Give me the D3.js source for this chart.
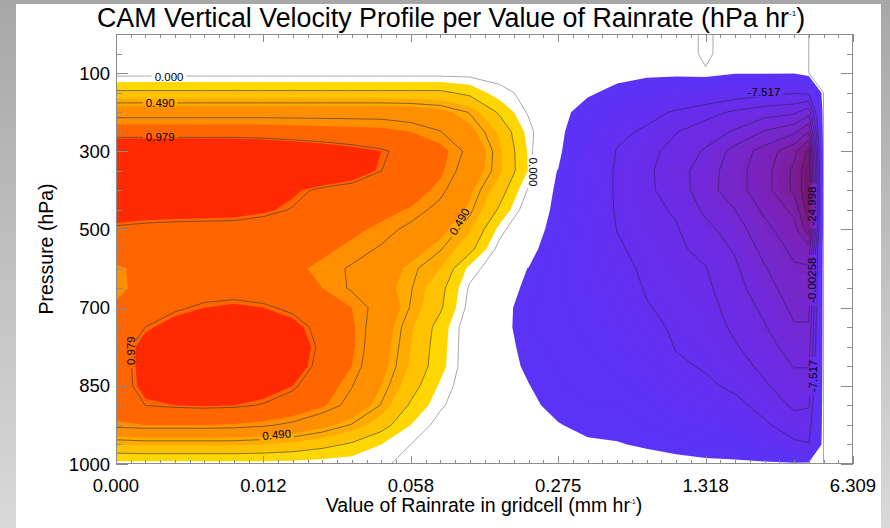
<!DOCTYPE html>
<html>
<head>
<meta charset="utf-8">
<script src="https://cdn.jsdelivr.net/npm/d3@7"></script>
<style>
  body { margin: 0; background: #ffffff; }
  svg { display: block; }
  text { font-family: "Liberation Sans", Arial, Helvetica, sans-serif; fill: #000; }
</style>
</head>
<body>
<svg id="chart" width="890" height="528"></svg>
<script>
// ---- data ---------------------------------------------------------------
// Rain-rate bin (in minor-tick units, 0..50) of each sampled column of the grid
const rainBins = [0, 2, 4, 6, 8, 10, 12, 14, 16, 18, 20, 22, 24, 26, 28, 30, 32, 34, 36, 38, 40, 42, 44, 46, 47, 48, 50];
// Axis tick labels
const rainTickBins = [0, 10, 20, 30, 40, 50];
const rainTickLabels = ["0.000", "0.012", "0.058", "0.275", "1.318", "6.309"];
const pressureTickLevels = [2, 6, 10, 14, 18, 22];
const pressureTickLabels = ["100", "300", "500", "700", "850", "1000"];

// Vertical velocity (hPa hr-1); one row per model level, top of the atmosphere first
const omega = [
  [-.01,-.01,-.01,-.01,-.01,-.01,-.01,-.01,-.01,-.01,-.01,-.01,-.01,-.01,-.01,-.01,-.01,-.01,-.01,-.03,.01,-.03,-.01,-.01,0,0,0],
  [-.01,-.01,-.01,-.01,-.01,-.01,-.01,-.01,-.01,-.01,-.01,-.01,-.01,-.01,-.01,-.01,-.01,-.01,-.01,-.03,.01,-.03,-.01,-.01,0,0,0],
  [-.05,-.05,-.05,-.05,-.05,-.05,-.05,-.05,-.05,-.05,-.05,-.05,-.05,-.04,-.03,-.03,-.05,-.1,-.3,-.3,-.005,-.8,-.8,-.9,0,0,0],
  [.28,.28,.28,.28,.28,.28,.28,.28,.28,.28,.28,.28,.2,.03,-.03,-.05,-.6,-1.8,-3.3,-4.2,-5.1,-6.0,-6.7,-7.3,-7.0,0,0],
  [.68,.68,.68,.68,.68,.68,.68,.68,.68,.68,.66,.6,.48,.22,-.02,-.08,-2.2,-4.3,-6.5,-7.9,-9.1,-10.4,-11.4,-12,-14,0,0],
  [.87,.87,.87,.87,.87,.87,.86,.85,.84,.83,.8,.74,.6,.38,.05,-.25,-3.5,-6.8,-8,-9.9,-11.3,-12.8,-15.2,-16.9,-20,0,0],
  [1.25,1.25,1.25,1.25,1.25,1.2,1.15,1.1,1.05,1.0,.92,.84,.7,.43,.08,-.52,-4.2,-7.7,-9.2,-11,-12.8,-16,-18.5,-21.8,-25.5,0,0],
  [1.3,1.3,1.3,1.3,1.3,1.3,1.25,1.15,1.08,.98,.9,.82,.66,.43,.09,-1.05,-4.5,-8,-9.5,-11.5,-13.7,-16.5,-19,-23,-27,0,0],
  [1.3,1.3,1.3,1.3,1.25,1.15,1.02,.95,.92,.9,.86,.77,.58,.33,-.02,-1.2,-4.6,-8,-9.5,-11.2,-13.9,-16.5,-19,-23,-27,0,0],
  [1.1,1.08,1.07,1.06,1.05,1.02,.97,.9,.86,.83,.79,.69,.52,.22,-.1,-1.35,-4.6,-7.9,-9.3,-10.3,-13,-15,-18,-20.6,-26.5,0,0],
  [.95,.93,.92,.92,.92,.9,.88,.85,.82,.78,.7,.6,.42,.06,-.2,-1.65,-4.4,-7.6,-8.9,-9.8,-11.8,-13.8,-16.8,-19.1,-24,0,0],
  [.88,.9,.9,.9,.9,.88,.86,.82,.78,.72,.62,.5,.3,-.05,-.3,-2.5,-4.3,-7.1,-8.5,-9.5,-10.8,-12.8,-15.8,-18.1,-19,0,0],
  [.78,.84,.86,.86,.85,.84,.82,.78,.72,.63,.52,.4,.06,-.1,-1.05,-2.8,-4.1,-6.5,-8.1,-9.1,-9.9,-12.1,-14.8,-17.2,-17.2,0,0],
  [.76,.86,.9,.92,.92,.9,.86,.8,.72,.6,.5,.3,-.02,-.2,-1.34,-2.8,-3.9,-5.8,-7.8,-8.8,-9.5,-11.6,-14,-16.4,-16.4,0,0],
  [.82,.9,.96,1.0,1.02,1.0,.95,.88,.8,.68,.48,.27,-.05,-.2,-1.9,-2.6,-3.6,-5.2,-7.3,-8.4,-9.1,-11,-13.1,-15.6,-15.6,0,0],
  [.86,.98,1.05,1.1,1.12,1.1,1.04,.93,.82,.64,.42,.18,-.1,-.2,-2.0,-2.5,-3.3,-4.5,-6.4,-8.1,-8.7,-10.5,-12.3,-14.8,-14.8,0,0],
  [.9,1.05,1.1,1.15,1.15,1.12,1.08,.95,.82,.62,.4,.16,-.1,-.2,-1.6,-2.3,-3.0,-3.9,-5.5,-7.7,-8.2,-9.8,-11.5,-13.7,-13.7,0,0],
  [.9,1.05,1.12,1.16,1.16,1.13,1.07,.93,.8,.6,.38,.15,-.1,-.2,-1.3,-2.1,-2.7,-3.3,-4.6,-7.0,-7.8,-9.0,-10.6,-12.6,-12.6,0,0],
  [.9,1.04,1.08,1.1,1.1,1.06,1.0,.88,.74,.55,.32,.08,-.1,-.2,-.95,-1.9,-2.3,-2.6,-3.7,-5.6,-7.0,-8.1,-9.7,-11.5,-11.4,0,0],
  [.88,.98,1.0,1.01,1.0,.97,.92,.82,.68,.48,.22,.02,-.1,-.3,-.6,-1.56,-1.9,-2.0,-2.8,-4.2,-5.2,-6.7,-8.5,-10.4,-10.2,0,0],
  [.78,.8,.8,.8,.79,.76,.7,.6,.48,.32,.1,-.05,-.1,-.3,-.5,-.9,-1.5,-1.5,-2.0,-2.9,-3.6,-4.6,-7.1,-9.0,-8.8,0,0],
  [.4,.42,.42,.42,.42,.4,.36,.3,.22,.1,0,-.05,-.1,-.3,-.4,-.5,-.7,-.9,-1.2,-1.6,-1.9,-2.3,-3.8,-7.0,-7.4,0,0],
  [.05,.05,.05,.05,.05,.05,.05,.03,.02,.01,-.02,-.05,-.1,-.2,-.3,-.3,-.3,-.3,-.3,-.4,-.6,-.6,-.6,-.6,-.5,0,0]
];

// Filled levels for ascent (positive) and their colours
const upFillLevels = [0.1, 0.25, 0.4, 0.55, 0.8, 1.0];
const upFillColors = ["#ffd700", "#ffc200", "#ffaa00", "#ff8f00", "#ff6600", "#ff2a00"];
// Filled levels for descent (negative), as magnitudes
const downFillLevels = d3.range(1, 28, 1);
const downColorStops = [1, 7, 13, 19, 24, 27];
const downColors = ["#5a33f7", "#652ff0", "#7229da", "#7b22b6", "#7a1b88", "#6c1566"];
// Contour lines
const zeroLevel = 0;
const upLineLevels = [0.245, 0.490, 0.734, 0.979];
const downLineLevels = [7.517, 10.014, 12.511, 15.009, 17.506, 20.003, 22.500, 24.998, 27.495];

// Contour labels, placed in data coordinates (rain bin, model level)
const contourLabels = [
  { text: "0.000",   bin: 3.6,   level: 2.2,  angle: 0 },
  { text: "0.490",   bin: 3.0,   level: 3.53, angle: 0 },
  { text: "0.979",   bin: 3.0,   level: 5.27, angle: 0 },
  { text: "0.979",   bin: 1.0,   level: 16.2, angle: -90 },
  { text: "0.490",   bin: 10.9,  level: 20.5, angle: -5 },
  { text: "0.490",   bin: 23.3,  level: 9.6,  angle: -60 },
  { text: "0.000",   bin: 28.3,  level: 7.06, angle: 90 },
  { text: "-7.517",  bin: 43.96, level: 2.97, angle: 0 },
  { text: "-24.998", bin: 47.2,  level: 8.8,  angle: -90 },
  { text: "-0.00258",bin: 47.2,  level: 12.6, angle: -90 },
  { text: "-7.517",  bin: 47.3,  level: 17.5, angle: -90 }
];

// ---- layout -------------------------------------------------------------
const svg = d3.select("#chart");
const W = 890, H = 528;
const plot = { left: 116, top: 34, right: 853, bottom: 464 };

const x = d3.scaleLinear().domain([0, 50]).range([plot.left, plot.right]);
const y = d3.scaleLinear().domain([0, 22]).range([plot.top, plot.bottom]);

const nCols = rainBins.length, nRows = omega.length;
const colToBin = d3.scaleLinear().domain(d3.range(nCols)).range(rainBins);
const gridToPx = d3.geoTransform({
  point(cx, cy) { this.stream.point(x(colToBin(cx - 0.5)), y(cy - 0.5)); }
});
const path = d3.geoPath(gridToPx);

const values = omega.flat();
const negValues = values.map(v => -v);
const contours = d3.contours().size([nCols, nRows]);

const defs = svg.append("defs");

// page frame: grey bands on the edges
const grad = defs.append("linearGradient").attr("id", "edgeGrey")
  .attr("x1", 0).attr("y1", 0).attr("x2", 0).attr("y2", 1);
grad.append("stop").attr("offset", "0%").attr("stop-color", "#a7a7a7");
grad.append("stop").attr("offset", "100%").attr("stop-color", "#d9d9d9");
svg.append("rect").attr("x", 0).attr("y", 0).attr("width", W).attr("height", H).attr("fill", "#fff");
svg.append("rect").attr("x", 0).attr("y", 0).attr("width", 16).attr("height", H).attr("fill", "url(#edgeGrey)");
svg.append("rect").attr("x", 881).attr("y", 0).attr("width", 9).attr("height", H).attr("fill", "url(#edgeGrey)");
svg.append("rect").attr("x", 0).attr("y", 0).attr("width", W).attr("height", 4).attr("fill", "#a7a7a7");

defs.append("clipPath").attr("id", "plotClip")
  .append("rect")
  .attr("x", plot.left).attr("y", plot.top)
  .attr("width", plot.right - plot.left).attr("height", plot.bottom - plot.top);

const field = svg.append("g").attr("clip-path", "url(#plotClip)");

// filled ascent bands
upFillLevels.forEach((t, i) => {
  field.append("path")
    .attr("d", path(contours.contour(values, t)))
    .attr("fill", upFillColors[i]);
});

// filled descent bands
const downColor = d3.scaleLinear().domain(downColorStops).range(downColors).interpolate(d3.interpolateRgb);
downFillLevels.forEach(t => {
  field.append("path")
    .attr("d", path(contours.contour(negValues, t)))
    .attr("fill", downColor(t));
});

// mask that opens gaps in the contour lines under the labels
const mask = defs.append("mask").attr("id", "labelGaps")
  .attr("maskUnits", "userSpaceOnUse")
  .attr("x", 0).attr("y", 0).attr("width", W).attr("height", H);
mask.append("rect").attr("x", 0).attr("y", 0).attr("width", W).attr("height", H).attr("fill", "#fff");

const lineLayer = field.append("g").attr("mask", "url(#labelGaps)").attr("fill", "none");

lineLayer.append("path")
  .attr("d", path(contours.contour(values, zeroLevel)))
  .attr("stroke", "#a8a8a8").attr("stroke-width", 1);

upLineLevels.forEach(t => {
  lineLayer.append("path")
    .attr("d", path(contours.contour(values, t)))
    .attr("stroke", "#3b3b3b").attr("stroke-opacity", 0.75).attr("stroke-width", 0.85);
});

downLineLevels.forEach(t => {
  lineLayer.append("path")
    .attr("d", path(contours.contour(negValues, t)))
    .attr("stroke", "#2c1f45").attr("stroke-opacity", 0.7).attr("stroke-width", 0.8);
});

// contour labels
const labelLayer = svg.append("g");
contourLabels.forEach(d => {
  const px = x(d.bin), py = y(d.level);
  const g = labelLayer.append("g").attr("transform", `translate(${px},${py}) rotate(${d.angle})`);
  const t = g.append("text")
    .attr("text-anchor", "middle").attr("dy", "0.35em")
    .attr("font-size", 11.5).text(d.text);
  const w = t.node().getComputedTextLength();
  mask.append("rect")
    .attr("transform", `translate(${px},${py}) rotate(${d.angle})`)
    .attr("x", -w / 2 - 3).attr("y", -5).attr("width", w + 6).attr("height", 10)
    .attr("fill", "#000");
});

// axes: frame and ticks on all four sides
const axisColor = "#8c8c8c";
const axes = svg.append("g").attr("stroke", axisColor).attr("fill", "none").attr("stroke-width", 1);
axes.append("rect")
  .attr("x", plot.left + 0.5).attr("y", plot.top + 0.5)
  .attr("width", plot.right - plot.left - 1).attr("height", plot.bottom - plot.top - 1);

d3.range(0, 51).forEach(b => {
  const len = b % 10 === 0 ? 8 : 4;
  const px = Math.round(x(b)) + 0.5;
  axes.append("line").attr("x1", px).attr("x2", px).attr("y1", plot.bottom).attr("y2", plot.bottom - len);
  axes.append("line").attr("x1", px).attr("x2", px).attr("y1", plot.top).attr("y2", plot.top + len);
});
d3.range(0, 23).forEach(l => {
  const len = pressureTickLevels.includes(l) ? 12 : 6;
  const py = Math.round(y(l)) + 0.5;
  axes.append("line").attr("y1", py).attr("y2", py).attr("x1", plot.left).attr("x2", plot.left + len);
  axes.append("line").attr("y1", py).attr("y2", py).attr("x1", plot.right).attr("x2", plot.right - len);
});

// tick labels
svg.append("g").selectAll("text").data(rainTickBins).join("text")
  .attr("x", d => x(d)).attr("y", 492)
  .attr("text-anchor", "middle").attr("font-size", 18.5)
  .text((d, i) => rainTickLabels[i]);

svg.append("g").selectAll("text").data(pressureTickLevels).join("text")
  .attr("x", 110).attr("y", d => y(d) + 6.5)
  .attr("text-anchor", "end").attr("font-size", 18.5)
  .text((d, i) => pressureTickLabels[i]);

// titles
const title = svg.append("text")
  .attr("x", 451).attr("y", 27).attr("text-anchor", "middle").attr("font-size", 26.8);
title.append("tspan").text("CAM Vertical Velocity Profile per Value of Rainrate (hPa hr");
title.append("tspan").attr("font-size", 8).attr("dy", -11).text("-1");
title.append("tspan").attr("dy", 11).text(")");

const xTitle = svg.append("text")
  .attr("x", 484).attr("y", 512).attr("text-anchor", "middle").attr("font-size", 19.5);
xTitle.append("tspan").text("Value of Rainrate in gridcell (mm hr");
xTitle.append("tspan").attr("font-size", 6.5).attr("dy", -8).text("-1");
xTitle.append("tspan").attr("dy", 8).text(")");

svg.append("text")
  .attr("transform", "translate(53,249) rotate(-90)")
  .attr("text-anchor", "middle").attr("font-size", 19.5)
  .text("Pressure (hPa)");
</script>
</body>
</html>
